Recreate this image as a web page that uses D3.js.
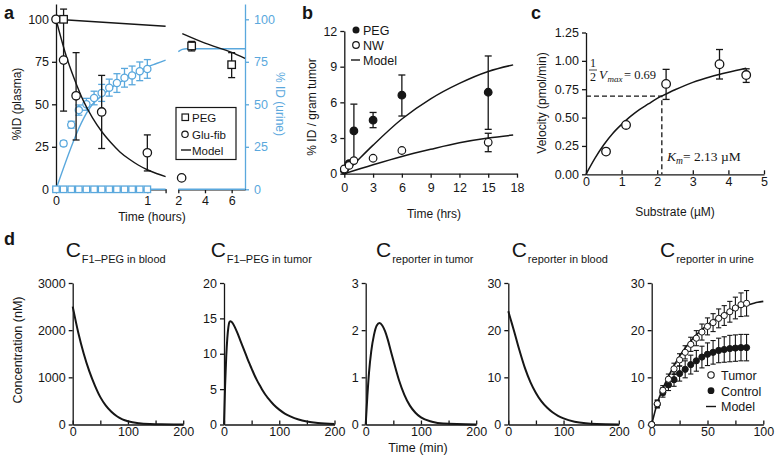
<!DOCTYPE html>
<html><head><meta charset="utf-8">
<script src="https://cdn.jsdelivr.net/npm/d3@7"></script>
<style>body{margin:0;background:#fff}</style>
</head><body><svg id="c" width="775" height="469"></svg>
<script>
// ---------- DATA ----------
// Panel a (plasma, left axis; urine, right axis) time in hours
const aGluT = [0, 0.083, 0.22, 0.5, 1.0, 2.25];
const aGluV = [100, 76, 55, 45.5, 21.5, 6.7];
const aGluLo = [100, 46, 29, 24, 10.8, 5.5];
const aGluHi = [100, 106, 80.4, 67, 32, 8];
const aPegT = [0.083, 3, 6];
const aPegV = [100, 84.3, 73.3];
const aPegLo = [100, 81.4, 65.7];
const aPegHi = [100, 87, 80.4];
const aUrinePegT = [0, 0.083, 0.167, 0.25, 0.333, 0.417, 0.5, 0.583, 0.667, 0.75, 0.833, 0.917, 1.0];
const aUrinePegV = [0, 0, 0, 0, 0, 0, 0, 0, 0, 0, 0, 0, 0];
const aUrineGluT = [0.083, 0.167, 0.25, 0.333, 0.417, 0.5, 0.583, 0.667, 0.75, 0.833, 0.917, 1.0];
const aUrineGluV = [27, 38, 46.6, 50, 53.7, 56.7, 59.8, 62.5, 65.6, 67, 69.4, 70.8];
const aUrineGluErr = [1.5, 2, 3, 3.5, 4, 5, 5, 5.5, 5.5, 5.5, 5.5, 5.5];
const aModelGlu1 = [[0,100],[0.1,80.5],[0.2,65],[0.3,52],[0.4,42],[0.5,34],[0.6,27.5],[0.7,22],[0.8,17.8],[0.9,14.3],[1.0,11.5],[1.1,9.3],[1.2,7.5]];
const aModelPeg1 = [[0,100],[1.2,95.9]];
const aModelPeg2 = [[2.3,91.6],[4,86],[6,80.5],[7,77]];
const aModelUrineGlu1 = [[0,0],[0.4,50],[0.5,55],[0.6,59.5],[0.7,63],[0.8,66],[0.9,69],[1.0,72],[1.1,74],[1.2,76]];
const aModelUrineGlu2 = [[2,81],[2.3,82.3],[2.6,82.7],[7,82.7]];
const aModelUrinePeg1 = [[0,0],[1.2,0]];
const aModelUrinePeg2 = [[2,0],[7,0]];
const aYTicks = [0, 25, 50, 75, 100];

// Panel b
const bT = [0, 0.5, 1, 3, 6, 15];
const bPegV = [0.3, 0.85, 3.6, 4.5, 6.6, 6.85];
const bPegLo = [0.3, 0.85, 1.1, 3.87, 4.85, 3.73];
const bPegHi = [0.3, 0.85, 5.85, 5.15, 8.3, 9.9];
const bNwV = [0.4, 0.7, 1.1, 1.3, 1.95, 2.64];
const bNwLo = [0.4, 0.7, 1.1, 1.3, 1.95, 1.85];
const bNwHi = [0.4, 0.7, 1.1, 1.3, 1.95, 3.4];
const bModelPeg = [[0,0],[1,0.8],[3,2.4],[6,4.6],[9,6.3],[12,7.6],[15,8.6],[17.6,9.15]];
const bModelNw = [[0,0],[3,0.75],[6,1.45],[9,2.05],[12,2.6],[15,3.0],[17.6,3.25]];

// Panel c
const cS = [0.5625, 1.125, 2.25, 3.75, 4.5];
const cV = [0.2, 0.435, 0.797, 0.97, 0.875];
const cLo = [0.2, 0.415, 0.66, 0.84, 0.81];
const cHi = [0.2, 0.455, 0.925, 1.10, 0.93];
const cModel = [[0,0],[0.25,0.14],[0.5,0.26],[0.75,0.36],[1,0.44],[1.25,0.51],[1.5,0.57],[1.75,0.62],[2,0.67],[2.13,0.69],[2.5,0.745],[3,0.81],[3.5,0.86],[4,0.9],[4.5,0.935]];
const cKm = 2.13, cHalfV = 0.69;

// Panel d model curves (time in min)
const dBloodF1 = [[0,2500],[10,1950],[20,1500],[30,1130],[40,830],[50,580],[60,400],[70,270],[80,175],[90,110],[100,70],[120,28],[140,10],[160,3],[200,0]];
const dTumorF1 = [[0,0],[2,5.5],[4,9.5],[6,12.2],[8,13.8],[10,14.5],[12,14.6],[15,14.4],[20,13.7],[25,12.8],[30,11.8],[35,10.8],[40,9.8],[45,8.8],[50,7.9],[55,7.0],[60,6.2],[65,5.5],[70,4.8],[75,4.2],[80,3.7],[90,2.8],[100,2.1],[110,1.55],[120,1.15],[135,0.7],[150,0.42],[170,0.2],[200,0.06]];
const dTumorRep = [[0,0],[3,0.6],[6,1.1],[10,1.55],[15,1.9],[20,2.1],[25,2.15],[30,2.1],[35,1.98],[40,1.8],[45,1.58],[50,1.36],[55,1.15],[60,0.95],[70,0.63],[80,0.4],[90,0.25],[100,0.15],[120,0.06],[140,0.02],[200,0]];
const dBloodRep = [[0,24],[5,22],[10,20],[20,15.8],[30,12],[40,9],[50,6.7],[60,4.9],[70,3.6],[80,2.6],[90,1.85],[100,1.3],[120,0.6],[140,0.25],[160,0.1],[200,0.02]];
const dUrineModel = [[0,0],[5,4.5],[10,7.6],[15,10.2],[20,12.5],[25,14.5],[30,16.2],[35,17.7],[40,19],[45,20.1],[50,21.1],[55,22],[60,22.8],[65,23.4],[70,24],[75,24.5],[80,25],[85,25.3],[90,25.6],[95,25.9],[100,26.1]];
const dUrineT = [0,5,10,15,20,25,30,35,40,45,50,55,60,65,70,75,80,85];
const dUrineTumor = [0,4.4,7.25,9.6,11.8,13.7,15.3,17,18.3,19.6,20.8,21.6,22.5,23.1,23.9,24.7,25.4,25.7];
const dUrineTumorErr = [0,0.8,1,1.1,1.2,1.3,1.4,1.5,1.6,1.7,1.8,1.9,2,2.1,2.2,2.3,2.5,2.7];
const dUrineCtrl = [0,4.3,6.8,8.4,9.5,10.8,11.7,12.7,13.5,14.3,14.9,15.3,15.7,15.9,16.1,16.2,16.3,16.3];
const dUrineCtrlErr = [0,0.8,1,1.2,1.4,1.6,1.8,2,2.2,2.3,2.4,2.5,2.6,2.7,2.8,2.8,2.8,2.8];
const dTitles = ["F1\u2013PEG in blood","F1\u2013PEG in tumor","reporter in tumor","reporter in blood","reporter in urine"];
const dYMax = [3000, 20, 3, 30, 30];
const dYTicks = [[0,1000,2000,3000],[0,5,10,15,20],[0,1,2,3],[0,10,20,30],[0,10,20,30]];

// ---------- DRAW ----------
const FONT = '"Liberation Sans", Arial, Helvetica, sans-serif';
const SERIF = '"Liberation Serif", "Times New Roman", serif';
const BLUE = '#5aa8dd';
const INK = '#161616';
const fmt = d3.format('d');
const svg = d3.select('#c').attr('font-family', FONT);

function styleAxis(g, color = INK, fs = 12) {
  g.attr('font-family', FONT).attr('font-size', fs);
  g.select('.domain').attr('stroke', color).attr('stroke-width', 1.3);
  g.selectAll('.tick line').attr('stroke', color).attr('stroke-width', 1.3);
  g.selectAll('.tick text').attr('fill', color);
}
function label(x, y, str, o = {}) {
  const t = svg.append('text').attr('x', x).attr('y', y).text(str)
    .attr('font-size', o.size || 12).attr('fill', o.color || INK)
    .attr('text-anchor', o.anchor || 'start');
  if (o.rotate) t.attr('transform', `rotate(${o.rotate},${x},${y})`);
  if (o.weight) t.attr('font-weight', o.weight);
  if (o.family) t.attr('font-family', o.family);
  if (o.italic) t.attr('font-style', 'italic');
  return t;
}
function errBars(g, xs, lo, hi, xf, y, color, cap = 3.5, w = 1.3) {
  const idx = d3.range(xs.length).filter(i => hi[i] - lo[i] > 0.0001);
  const gg = g.append('g').attr('stroke', color).attr('stroke-width', w);
  gg.selectAll('line.v').data(idx).join('line').attr('x1', i => xf(xs[i])).attr('x2', i => xf(xs[i]))
    .attr('y1', i => y(lo[i])).attr('y2', i => y(hi[i]));
  gg.selectAll('line.t').data(idx).join('line').attr('x1', i => xf(xs[i]) - cap).attr('x2', i => xf(xs[i]) + cap)
    .attr('y1', i => y(hi[i])).attr('y2', i => y(hi[i]));
  gg.selectAll('line.b').data(idx).join('line').attr('x1', i => xf(xs[i]) - cap).attr('x2', i => xf(xs[i]) + cap)
    .attr('y1', i => y(lo[i])).attr('y2', i => y(lo[i]));
}
function circles(g, xs, vs, xf, y, r, stroke, fill, w = 1.3) {
  g.append('g').selectAll('circle').data(d3.range(xs.length)).join('circle')
    .attr('cx', i => xf(xs[i])).attr('cy', i => y(vs[i])).attr('r', r)
    .attr('fill', fill).attr('stroke', stroke).attr('stroke-width', w);
}
function squares(g, xs, vs, xf, y, s, stroke, fill, w = 1.3) {
  g.append('g').selectAll('rect').data(d3.range(xs.length)).join('rect')
    .attr('x', i => xf(xs[i]) - s / 2).attr('y', i => y(vs[i]) - s / 2).attr('width', s).attr('height', s)
    .attr('fill', fill).attr('stroke', stroke).attr('stroke-width', w);
}
function curve(g, pts, xf, y, color, w = 1.5, curveType = d3.curveMonotoneX) {
  g.append('path').datum(pts).attr('fill', 'none').attr('stroke', color).attr('stroke-width', w)
    .attr('d', d3.line().x(d => xf(d[0])).y(d => y(d[1])).curve(curveType));
}

// ===== Panel a =====
{
  const g = svg.append('g');
  const ya = d3.scaleLinear().domain([0, 109]).range([189.3, 4]);
  const xa1 = d3.scaleLinear().domain([0, 1.2]).range([56, 165.6]);
  const xa2 = d3.scaleLinear().domain([2, 7]).range([178.3, 245]);
  const xa = t => t <= 1.5 ? xa1(t) : xa2(t);

  styleAxis(g.append('g').attr('transform', 'translate(56,0)')
    .call(d3.axisLeft(ya).tickValues(aYTicks).tickFormat(fmt).tickSize(4).tickPadding(3).tickSizeOuter(0)), INK, 12.5);
  styleAxis(g.append('g').attr('transform', 'translate(245,0)')
    .call(d3.axisRight(ya).tickValues(aYTicks).tickFormat(fmt).tickSize(4).tickPadding(5).tickSizeOuter(0)), BLUE, 12.5);
  styleAxis(g.append('g').attr('transform', 'translate(0,189.3)')
    .call(d3.axisBottom(xa1).tickValues([0, 1, 1.2]).tickFormat(d => d === 1.2 ? '' : fmt(d)).tickSize(4).tickPadding(3).tickSizeOuter(0)), INK, 12.5);
  styleAxis(g.append('g').attr('transform', 'translate(0,189.3)')
    .call(d3.axisBottom(xa2).tickValues([2, 4, 6]).tickFormat(fmt).tickSize(4).tickPadding(3).tickSizeOuter(0)), INK, 12.5);

  // urine (blue)
  curve(g, aModelUrineGlu1, xa1, ya, BLUE, 1.4);
  curve(g, aModelUrineGlu2, xa2, ya, BLUE, 1.4);
  curve(g, aModelUrinePeg1, xa1, ya, BLUE, 1.6, d3.curveLinear);
  curve(g, aModelUrinePeg2, xa2, ya, BLUE, 1.6, d3.curveLinear);
  errBars(g, aUrineGluT, aUrineGluV.map((v, i) => v - aUrineGluErr[i]), aUrineGluV.map((v, i) => v + aUrineGluErr[i]), xa, ya, BLUE, 3.5);
  circles(g, aUrineGluT, aUrineGluV, xa, ya, 3.6, BLUE, '#fff', 1.3);
  squares(g, aUrinePegT, aUrinePegV, xa, ya, 6.5, BLUE, '#fff', 1.3);

  // plasma (black)
  curve(g, aModelGlu1, xa1, ya, INK, 1.4);
  curve(g, aModelPeg1, xa1, ya, INK, 1.4, d3.curveLinear);
  curve(g, aModelPeg2, xa2, ya, INK, 1.4);
  errBars(g, aGluT, aGluLo, aGluHi, xa, ya, INK, 3.5);
  errBars(g, aPegT, aPegLo, aPegHi, xa, ya, INK, 3.5);
  circles(g, aGluT, aGluV, xa, ya, 4.2, INK, '#fff', 1.3);
  squares(g, aPegT, aPegV, xa, ya, 7.5, INK, '#fff', 1.3);

  // legend
  g.append('rect').attr('x', 176).attr('y', 107.5).attr('width', 60).attr('height', 52)
    .attr('fill', '#fff').attr('stroke', INK).attr('stroke-width', 1.2);
  g.append('rect').attr('x', 182).attr('y', 114).attr('width', 6.5).attr('height', 6.5).attr('fill', '#fff').attr('stroke', INK).attr('stroke-width', 1.2);
  g.append('circle').attr('cx', 185).attr('cy', 134.3).attr('r', 3.2).attr('fill', '#fff').attr('stroke', INK).attr('stroke-width', 1.2);
  g.append('line').attr('x1', 181).attr('x2', 191).attr('y1', 150).attr('y2', 150).attr('stroke', INK).attr('stroke-width', 1.4);
  label(192, 121.5, 'PEG', { size: 11.5 });
  label(192, 138.5, 'Glu-fib', { size: 11.5 });
  label(192, 154.5, 'Model', { size: 11.5 });

  label(21, 104, '%ID (plasma)', { rotate: -90, anchor: 'middle' });
  label(276, 104, '% ID (urine)', { rotate: 90, anchor: 'middle', color: BLUE });
  label(152, 221, 'Time (hours)', { anchor: 'middle' });
  label(4, 19, 'a', { size: 18, weight: 'bold' });
}

// ===== Panel b =====
{
  const g = svg.append('g');
  const y = d3.scaleLinear().domain([0, 12]).range([173.7, 31]);
  const x = d3.scaleLinear().domain([0, 18]).range([344.3, 517]);
  styleAxis(g.append('g').attr('transform', 'translate(344.3,0)')
    .call(d3.axisLeft(y).tickValues([0, 3, 6, 9, 12]).tickFormat(fmt).tickSize(4).tickPadding(3).tickSizeOuter(0)), INK, 12.5);
  styleAxis(g.append('g').attr('transform', 'translate(0,173.7)')
    .call(d3.axisBottom(x).tickValues([0, 3, 6, 9, 12, 15, 18]).tickFormat(fmt).tickSize(4).tickPadding(5).tickSizeOuter(0)), INK, 12.5);
  curve(g, bModelPeg, x, y, INK, 1.5);
  curve(g, bModelNw, x, y, INK, 1.5);
  errBars(g, bT, bPegLo, bPegHi, x, y, INK, 3.5);
  errBars(g, bT, bNwLo, bNwHi, x, y, INK, 3.5);
  circles(g, bT, bPegV, x, y, 3.8, INK, INK, 1.2);
  circles(g, bT, bNwV, x, y, 3.8, INK, '#fff', 1.2);
  // legend
  g.append('circle').attr('cx', 356).attr('cy', 30).attr('r', 3.5).attr('fill', INK);
  g.append('circle').attr('cx', 356).attr('cy', 45).attr('r', 3.3).attr('fill', '#fff').attr('stroke', INK).attr('stroke-width', 1.2);
  g.append('line').attr('x1', 351).attr('x2', 360).attr('y1', 60).attr('y2', 60).attr('stroke', INK).attr('stroke-width', 1.4);
  label(363, 34.5, 'PEG', { size: 12.5 });
  label(363, 49.5, 'NW', { size: 12.5 });
  label(363, 64.5, 'Model', { size: 12.5 });
  label(316, 107, '% ID / gram tumor', { rotate: -90, anchor: 'middle' });
  label(434, 218, 'Time (hrs)', { anchor: 'middle' });
  label(302, 19, 'b', { size: 18, weight: 'bold' });
}

// ===== Panel c =====
{
  const g = svg.append('g');
  const y = d3.scaleLinear().domain([0, 1.25]).range([174.3, 32.5]);
  const x = d3.scaleLinear().domain([0, 5]).range([586, 764]);
  styleAxis(g.append('g').attr('transform', 'translate(586,0)')
    .call(d3.axisLeft(y).tickValues([0, 0.25, 0.5, 0.75, 1.0, 1.25]).tickFormat(d3.format('.2f')).tickSize(4).tickPadding(3).tickSizeOuter(0)), INK, 12.5);
  styleAxis(g.append('g').attr('transform', 'translate(0,174.3)')
    .call(d3.axisBottom(x).tickValues([0, 1, 2, 3, 4, 5]).tickFormat(fmt).tickSizeInner(-4).tickPadding(3).tickSizeOuter(0)), INK, 12.5);
  // dashed guides
  g.append('path').attr('fill', 'none').attr('stroke', INK).attr('stroke-width', 1.3).attr('stroke-dasharray', '5,3')
    .attr('d', `M${x(0)},${y(cHalfV)}H${x(cKm)}V${y(0)}`);
  curve(g, cModel, x, y, INK, 1.5);
  errBars(g, cS, cLo, cHi, x, y, INK, 3.5);
  circles(g, cS, cV, x, y, 4.3, INK, '#fff', 1.3);
  // annotations
  label(593, 67, '1', { size: 12, family: SERIF, anchor: 'middle' });
  g.append('line').attr('x1', 589).attr('x2', 597).attr('y1', 70).attr('y2', 70).attr('stroke', INK).attr('stroke-width', 0.8);
  label(593, 80.5, '2', { size: 12, family: SERIF, anchor: 'middle' });
  label(599, 79, 'V', { size: 13, family: SERIF, italic: true });
  label(607.5, 82, 'max', { size: 9, family: SERIF, italic: true });
  label(624, 79, '= 0.69', { size: 12.5, family: SERIF });
  label(667, 161, 'K', { size: 13.5, family: SERIF, italic: true });
  label(676, 164, 'm', { size: 9.5, family: SERIF, italic: true });
  label(683, 161, '= 2.13 \u00B5M', { size: 13.5, family: SERIF });
  label(546, 103, 'Velocity (pmol/min)', { rotate: -90, anchor: 'middle' });
  label(675, 216, 'Substrate (\u00B5M)', { anchor: 'middle' });
  label(531, 19, 'c', { size: 18, weight: 'bold' });
}

// ===== Panel d =====
{
  const x0s = [72.7, 224, 365.7, 508.3, 651.7];
  const titleX = [65.7, 210.7, 376, 511.7, 660];
  const curves = [dBloodF1, dTumorF1, dTumorRep, dBloodRep, dUrineModel];
  for (let k = 0; k < 5; k++) {
    const g = svg.append('g');
    const last = k === 4;
    const y = d3.scaleLinear().domain([0, dYMax[k]]).range([424.5, 283]);
    const x = d3.scaleLinear().domain([0, last ? 100 : 200]).range([x0s[k], x0s[k] + (last ? 111.6 : 110.5)]);
    const xt = last ? [0, 25, 50, 75, 100] : [0, 50, 100, 150, 200];
    styleAxis(g.append('g').attr('transform', `translate(${x0s[k]},0)`)
      .call(d3.axisLeft(y).tickValues(dYTicks[k]).tickFormat(fmt).tickSize(4).tickPadding(3).tickSizeOuter(0)), INK, 12.5);
    styleAxis(g.append('g').attr('transform', 'translate(0,424.5)')
      .call(d3.axisBottom(x).tickValues(xt).tickFormat(d => (last ? d % 50 === 0 : d % 100 === 0) ? fmt(d) : '').tickSizeInner(-4).tickPadding(3).tickSizeOuter(0)), INK, 12.5);
    if (last) {
      curve(g, dUrineModel, x, y, INK, 1.6);
      errBars(g, dUrineT, dUrineCtrl.map((v, i) => v - dUrineCtrlErr[i]), dUrineCtrl.map((v, i) => v + dUrineCtrlErr[i]), x, y, INK, 2.6, 1.1);
      errBars(g, dUrineT, dUrineTumor.map((v, i) => v - dUrineTumorErr[i]), dUrineTumor.map((v, i) => v + dUrineTumorErr[i]), x, y, INK, 2.6, 1.1);
      circles(g, dUrineT, dUrineCtrl, x, y, 3.1, INK, INK, 1);
      circles(g, dUrineT, dUrineTumor, x, y, 3.1, INK, '#fff', 1);
      g.append('circle').attr('cx', 711).attr('cy', 375).attr('r', 3.2).attr('fill', '#fff').attr('stroke', INK).attr('stroke-width', 1.1);
      g.append('circle').attr('cx', 711).attr('cy', 390.7).attr('r', 3.4).attr('fill', INK);
      g.append('line').attr('x1', 706).attr('x2', 716).attr('y1', 406.5).attr('y2', 406.5).attr('stroke', INK).attr('stroke-width', 1.4);
      label(721, 379.5, 'Tumor', { size: 12.5 });
      label(721, 395.5, 'Control', { size: 12.5 });
      label(721, 411, 'Model', { size: 12.5 });
    } else {
      curve(g, curves[k], x, y, INK, 2);
    }
    const t = svg.append('text').attr('x', titleX[k]).attr('y', 256.5).attr('fill', INK);
    t.append('tspan').attr('font-size', 21).text('C');
    t.append('tspan').attr('font-size', 11).attr('dy', 6).attr('dx', 1).text(dTitles[k]);
  }
  label(22, 350, 'Concentration (nM)', { rotate: -90, anchor: 'middle', size: 12.5 });
  label(418, 452, 'Time (min)', { anchor: 'middle', size: 12.5 });
  label(4, 245, 'd', { size: 18, weight: 'bold' });
}
</script>
</body></html>
